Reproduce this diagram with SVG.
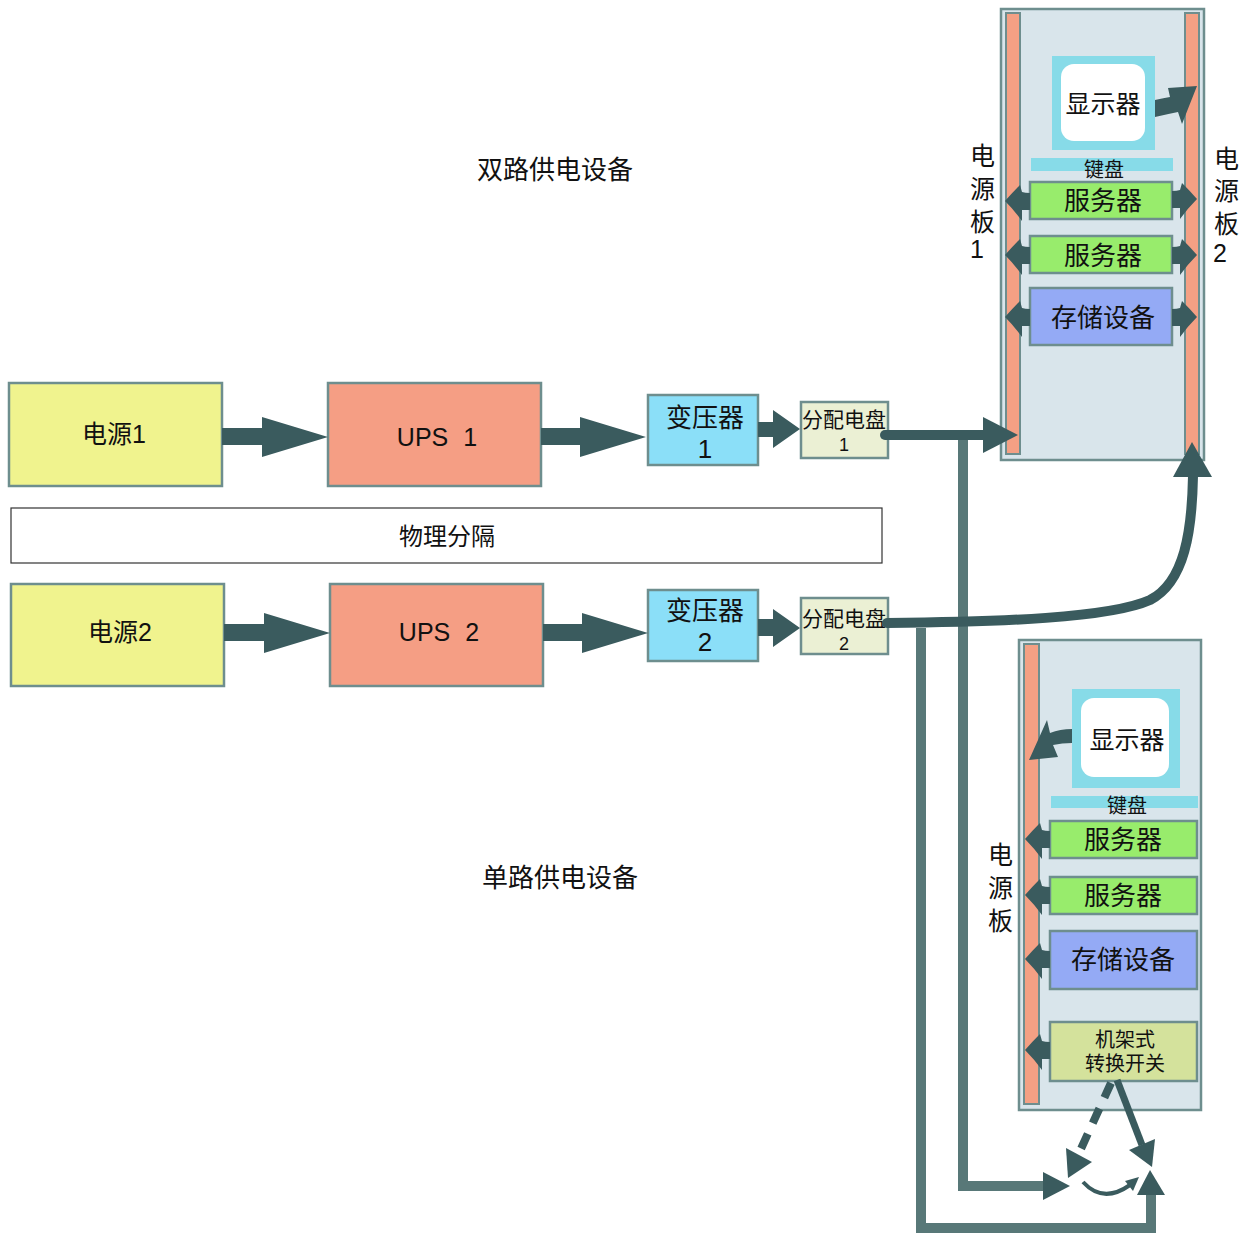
<svg xmlns="http://www.w3.org/2000/svg" xmlns:xlink="http://www.w3.org/1999/xlink" width="1241" height="1235" viewBox="0 0 1241 1235">
<style>
.box{stroke:#6e8e8e;stroke-width:2.5}
.t{font-family:"Liberation Sans","Noto Sans CJK SC",sans-serif;fill:#111;text-anchor:middle}
.tl{font-family:"Liberation Sans","Noto Sans CJK SC",sans-serif;fill:#111}
.arr{fill:#3a5b5e}
.ln{fill:none;stroke:#3a5b5e;stroke-width:10}
.gl{fill:none;stroke:#587878;stroke-width:10}
.yel{fill:#f0f38e}.sal{fill:#f59e84}.blu{fill:#8bdff8}.pan{fill:#ebf0d4}
.rack{fill:#d9e5eb}.bar{fill:#f4a084;stroke:#6e8e8e;stroke-width:2}
.cy{fill:#87dbe8}.srv{fill:#98ec6c}.sto{fill:#94aaf5}.sw{fill:#d4e29c}
</style>
<defs>
<path id="ca" d="M0,-8 Q-5,-8 -8,-9 L-10,-16 Q-18,-8 -25,0 Q-16,9 -8,20 L-8,9 Q-4,9 0,9 Z"/>
</defs>
<rect width="1241" height="1235" fill="#fff"/>

<text class="t" x="555" y="179" font-size="26">双路供电设备</text>
<text class="t" x="560" y="887" font-size="26">单路供电设备</text>

<g id="src1"><rect class="box yel" x="9" y="383" width="213" height="103"/><text class="t" x="114" y="443" font-size="25">电源1</text></g>
<g id="ups1"><rect class="box sal" x="328" y="383" width="213" height="103"/><text class="t" x="437" y="446" font-size="25" word-spacing="8">UPS 1</text></g>
<g id="tr1"><rect class="box blu" x="648" y="395" width="110" height="70"/><text class="t" x="705" y="427" font-size="26">变压器</text><text class="t" x="705" y="458" font-size="26">1</text></g>
<g id="pd1"><rect class="box pan" x="801" y="402" width="87" height="56"/><text class="t" x="844" y="427" font-size="21">分配电盘</text><text class="t" x="844" y="451" font-size="18">1</text></g>

<g id="sep"><rect x="11" y="508" width="871" height="55" fill="#fff" stroke="#333" stroke-width="1.2"/><text class="t" x="447" y="545" font-size="24">物理分隔</text></g>

<g id="src2"><rect class="box yel" x="11" y="584" width="213" height="102"/><text class="t" x="120" y="641" font-size="25">电源2</text></g>
<g id="ups2"><rect class="box sal" x="330" y="584" width="213" height="102"/><text class="t" x="439" y="641" font-size="25" word-spacing="8">UPS 2</text></g>
<g id="tr2"><rect class="box blu" x="648" y="590" width="110" height="71"/><text class="t" x="705" y="620" font-size="26">变压器</text><text class="t" x="705" y="651" font-size="26">2</text></g>
<g id="pd2"><rect class="box pan" x="801" y="598" width="87" height="56"/><text class="t" x="844" y="626" font-size="21">分配电盘</text><text class="t" x="844" y="650" font-size="18">2</text></g>

<g id="rack1">
<rect class="box rack" x="1001" y="9" width="203" height="451"/>
<rect class="bar" x="1006" y="13" width="14" height="441"/>
<rect class="bar" x="1185" y="13" width="14" height="441"/>
<rect class="cy" x="1052" y="56" width="103" height="94"/>
<rect x="1061" y="64" width="84" height="77" rx="13" fill="#fff"/>
<text class="t" x="1103" y="113" font-size="25">显示器</text>
<rect class="cy" x="1031" y="158" width="142" height="13"/>
<text class="t" x="1104" y="177" font-size="20">键盘</text>
<rect class="box srv" x="1030" y="182" width="142" height="37"/>
<text class="t" x="1103" y="210" font-size="26">服务器</text>
<rect class="box srv" x="1030" y="236" width="142" height="37"/>
<text class="t" x="1103" y="265" font-size="26">服务器</text>
<rect class="box sto" x="1030" y="288" width="142" height="57"/>
<text class="t" x="1103" y="327" font-size="26">存储设备</text>
<path class="arr" d="M1155,100 Q1164,98 1170,97 L1168,88 L1197,86 L1182,124 L1178,112 Q1168,114 1155,117 Z"/>
<use class="arr" xlink:href="#ca" href="#ca" transform="translate(1030,201)"/>
<use class="arr" xlink:href="#ca" href="#ca" transform="translate(1030,255)"/>
<use class="arr" xlink:href="#ca" href="#ca" transform="translate(1030,317)"/>
<use class="arr" xlink:href="#ca" href="#ca" transform="translate(1172,199) scale(-1,1)"/>
<use class="arr" xlink:href="#ca" href="#ca" transform="translate(1172,255) scale(-1,1)"/>
<use class="arr" xlink:href="#ca" href="#ca" transform="translate(1172,317) scale(-1,1)"/>
</g>
<g id="label1"><text class="tl" font-size="25" x="970" y="165">电</text><text class="tl" font-size="25" x="970" y="198">源</text><text class="tl" font-size="25" x="970" y="231">板</text><text class="tl" font-size="25" x="970" y="258">1</text></g>
<g id="label2"><text class="tl" font-size="25" x="1214" y="168">电</text><text class="tl" font-size="25" x="1214" y="200">源</text><text class="tl" font-size="25" x="1214" y="233">板</text><text class="tl" font-size="25" x="1213" y="262">2</text></g>

<g id="rack2">
<rect class="box rack" x="1019" y="640" width="182" height="470"/>
<rect class="bar" x="1024" y="644" width="15" height="460"/>
<rect class="cy" x="1072" y="689" width="108" height="99"/>
<rect x="1081" y="698" width="88" height="79" rx="13" fill="#fff"/>
<text class="t" x="1127" y="749" font-size="25">显示器</text>
<rect class="cy" x="1051" y="796" width="147" height="12"/>
<text class="t" x="1127" y="813" font-size="20">键盘</text>
<rect class="box srv" x="1050" y="821" width="147" height="37"/>
<text class="t" x="1123" y="849" font-size="26">服务器</text>
<rect class="box srv" x="1050" y="877" width="147" height="37"/>
<text class="t" x="1123" y="905" font-size="26">服务器</text>
<rect class="box sto" x="1050" y="931" width="147" height="58"/>
<text class="t" x="1123" y="969" font-size="26">存储设备</text>
<rect class="box sw" x="1050" y="1022" width="147" height="59"/>
<text class="t" x="1125" y="1047" font-size="20">机架式</text>
<text class="t" x="1125" y="1071" font-size="20">转换开关</text>
<path class="arr" d="M1072,729 Q1060,729 1050,733 L1047,720 L1029,760 L1058,757 L1053,745 Q1062,743 1072,743 Z"/>
<use class="arr" xlink:href="#ca" href="#ca" transform="translate(1050,839)"/>
<use class="arr" xlink:href="#ca" href="#ca" transform="translate(1050,895)"/>
<use class="arr" xlink:href="#ca" href="#ca" transform="translate(1050,959)"/>
<use class="arr" xlink:href="#ca" href="#ca" transform="translate(1050,1050)"/>
</g>
<g id="label3"><text class="tl" font-size="25" x="988" y="864">电</text><text class="tl" font-size="25" x="988" y="897">源</text><text class="tl" font-size="25" x="988" y="930">板</text></g>

<g id="connectors">
<polygon class="arr" points="222,428 262,428 262,417 328,437 262,457 262,445 222,445"/>
<polygon class="arr" points="541,428 580,428 580,417 646,437 580,457 580,445 541,445"/>
<polygon class="arr" points="224,624 264,624 264,613 330,633 264,653 264,641 224,641"/>
<polygon class="arr" points="543,624 582,624 582,613 648,633 582,653 582,641 543,641"/>
<polygon class="arr" points="758,422 773,422 773,410 800,429 773,448 773,437 758,437"/>
<polygon class="arr" points="758,619 773,619 773,609 800,628 773,647 773,636 758,636"/>
<path class="gl" d="M963,440 V1186 H1045"/>
<polygon class="arr" points="1043,1172 1070,1186 1043,1200"/>
<path class="gl" d="M921,628 V1228 H1151 V1194"/>
<polygon class="arr" points="1137,1195 1150,1170 1165,1195"/>
<path class="ln" stroke-linecap="round" d="M885,435 H985"/>
<polygon class="arr" points="983,417 1018,435 983,453"/>
<path class="ln" stroke-linecap="round" d="M887,623 C1000,622 1110,618 1150,600 C1185,582 1192,530 1193,476"/>
<polygon class="arr" points="1173,477 1192,442 1212,477"/>
<path fill="none" stroke="#3a5b5e" stroke-width="8" stroke-dasharray="16,12" d="M1111,1083 L1080,1151"/>
<polygon class="arr" points="1066,1148 1092,1162 1068,1178"/>
<path fill="none" stroke="#3a5b5e" stroke-width="7" d="M1117,1080 L1142,1145"/>
<polygon class="arr" points="1129,1150 1155,1139 1152,1167"/>
<path fill="none" stroke="#3a5b5e" stroke-width="4" d="M1083,1182 Q1103,1204 1130,1185"/>
<polygon class="arr" points="1125,1181 1139,1177 1133,1191"/>
</g>
</svg>
